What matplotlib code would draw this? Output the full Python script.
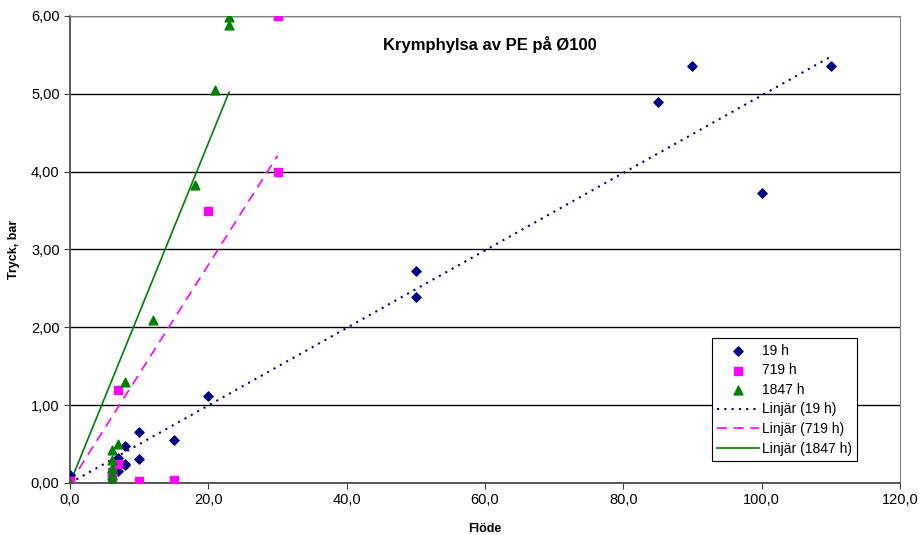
import numpy as np
import matplotlib.pyplot as plt
from matplotlib.ticker import FuncFormatter

plt.rcParams['font.family'] = ['Liberation Sans', 'DejaVu Sans']

# 19 h
x_19 = [0, 7, 7, 8, 8, 8, 10, 10, 15, 20, 50, 50, 85, 90, 100, 110]
y_19 = [0.10, 0.32, 0.15, 0.48, 0.25, 0.23, 0.66, 0.31, 0.55, 1.12,
        2.72, 2.39, 4.90, 5.36, 3.73, 5.36]

# 719 h
x_719 = [0, 6, 6, 6, 7, 7, 10, 15, 20, 30, 30]
y_719 = [0.02, 0.14, 0.10, 0.06, 0.24, 1.20, 0.03, 0.04, 3.50, 4.00, 6.00]

# 1847 h
x_1847 = [0, 6, 6, 6, 6, 6, 7, 8, 12, 18, 21, 23, 23]
y_1847 = [0.00, 0.04, 0.10, 0.19, 0.30, 0.42, 0.50, 1.30, 2.09, 3.83,
          5.05, 5.89, 5.99]


def trend_through_origin(x, y):
    # linear trendline with intercept forced to zero (like Excel)
    x = np.array(x, dtype=float)
    y = np.array(y, dtype=float)
    k = np.sum(x * y) / np.sum(x * x)
    xs = np.array([x.min(), x.max()])
    return xs, k * xs


fig = plt.figure(figsize=(9.19, 5.35), dpi=100)
ax = fig.add_axes([0.0762, 0.0972, 0.9031, 0.8729])

navy = '#000080'
magenta = '#FF00FF'
green = '#008000'

ax.scatter(x_19, y_19, marker='D', s=22, color=navy, label='19 h', zorder=3)
ax.scatter(x_719, y_719, marker='s', s=32, color=magenta, label='719 h', zorder=3)
ax.scatter(x_1847, y_1847, marker='^', s=40, color=green, label='1847 h', zorder=3)

tx, ty = trend_through_origin(x_19, y_19)
ax.plot(tx, ty, color=navy, lw=1.5, linestyle=(0, (1, 2.5)), label='Linjär (19 h)', zorder=2)
tx, ty = trend_through_origin(x_719, y_719)
ax.plot(tx, ty, color=magenta, lw=1.2, linestyle=(0, (6, 4)), label='Linjär (719 h)', zorder=2)
tx, ty = trend_through_origin(x_1847, y_1847)
ax.plot(tx, ty, color=green, lw=1.2, label='Linjär (1847 h)', zorder=2)

ax.set_xlim(0, 120)
ax.set_ylim(0, 6)
ax.set_xticks(np.arange(0, 121, 20))
ax.set_yticks(np.arange(0, 6.1, 1))
ax.xaxis.set_major_formatter(FuncFormatter(lambda v, p: f"{v:.1f}".replace('.', ',')))
ax.yaxis.set_major_formatter(FuncFormatter(lambda v, p: f"{v:.2f}".replace('.', ',')))
ax.tick_params(labelsize=10.5, direction='out', length=4, color='#404040')
ax.yaxis.grid(True, color='black', lw=1)
ax.set_axisbelow(True)

for side in ['top', 'right']:
    ax.spines[side].set_color('#808080')
for side in ['left', 'bottom']:
    ax.spines[side].set_color('#404040')
    ax.spines[side].set_linewidth(1.2)

ax.set_xlabel('Flöde', fontsize=9, fontweight='bold', labelpad=11)
ax.set_ylabel('Tryck, bar', fontsize=9, fontweight='bold', labelpad=8)
ax.text(0.506, 0.94, 'Krymphylsa av PE på Ø100', transform=ax.transAxes,
        ha='center', va='center', fontsize=12, fontweight='bold')

leg = ax.legend(loc='upper left', bbox_to_anchor=(0.773, 0.31), fontsize=10,
                frameon=True, fancybox=False, edgecolor='black', framealpha=1,
                handlelength=3.0, borderpad=0.4, labelspacing=0.4, handletextpad=0.2,
                borderaxespad=0)
leg.get_frame().set_linewidth(0.8)

fig.savefig('out.png', dpi=100)
